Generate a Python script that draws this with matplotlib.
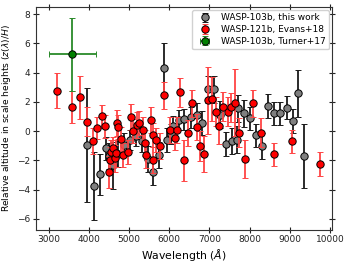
import numpy as np
import matplotlib
matplotlib.use("Agg")
import matplotlib.pyplot as plt

# WASP-103b, this work
wl_this = [3954, 4126, 4270, 4420, 4502, 4587, 4726, 4880, 5018, 5167,
           5324, 5474, 5598, 5748, 5872, 5932, 6031, 6090, 6246, 6363,
           6537, 6679, 6819, 6961, 7118, 7260, 7409, 7551, 7691, 7700,
           7870, 8019, 8157, 8313, 8463, 8612, 8762, 8921, 9071, 9210,
           9364]
z_this = [-0.95, -3.75, -2.95, -1.17, -1.70, -2.32, -1.58, -0.92, -0.61, -0.33,
          -0.64, -1.90, -2.77, -1.63, 4.31, -0.61, -0.20, 0.35, 0.76, 0.81,
          0.94, 1.10, 0.57, 2.86, 2.86, 1.13, -0.88, -0.66, -0.57, 1.56,
          1.22, 0.87, -0.29, -1.03, 1.73, 1.22, 1.22, 1.60, 0.71, 2.58,
          -1.70]
err_this = [3.9, 2.3, 1.4, 0.8, 0.9, 1.6, 0.9, 0.8, 0.7, 0.7,
            0.8, 0.9, 0.9, 0.9, 1.7, 0.8, 0.7, 0.7, 0.7, 0.7,
            0.7, 0.8, 0.8, 0.9, 0.9, 0.9, 0.8, 0.9, 0.9, 0.9,
            0.9, 0.8, 0.8, 0.9, 0.8, 0.8, 0.8, 0.8, 0.8, 1.6,
            2.2]

# WASP-121b, Evans+18
wl_ev = [3192, 3590, 3772, 3954, 4089, 4188, 4313, 4388, 4502, 4520,
         4544, 4602, 4642, 4669, 4686, 4726, 4786, 4851, 4960, 5043,
         5085, 5185, 5254, 5349, 5391, 5416, 5541, 5583, 5598, 5658,
         5765, 5872, 6014, 6139, 6181, 6271, 6370, 6470, 6570, 6679,
         6761, 6861, 6953, 7053, 7152, 7242, 7342, 7451, 7541, 7633,
         7740, 7882, 8089, 8293, 8612, 9066, 9763]
z_ev = [2.76, 1.67, 2.31, 0.64, -0.68, 0.21, 1.01, 0.33, -2.78, -1.97,
        -1.41, -1.17, -1.86, -1.52, 0.57, 0.30, -0.52, -1.63, -1.41, 0.98,
        0.01, 0.44, 0.57, 0.08, -0.79, -1.63, 0.76, -1.97, -0.27, -0.61,
        -1.02, 2.45, 0.08, -0.49, 0.08, 2.65, -2.00, -0.11, 1.90, 0.30,
        -1.02, -1.56, 2.10, 2.19, 1.33, 0.33, 1.67, 1.33, 1.63, 1.94,
        -0.11, -1.91, 1.90, -0.11, -1.58, -0.69, -2.25]
err_ev = [1.2, 1.1, 1.45, 1.0, 0.9, 0.75, 0.8, 0.8, 1.1, 0.9,
          0.8, 0.8, 0.9, 0.9, 0.9, 0.8, 0.8, 0.8, 0.8, 0.9,
          0.8, 0.9, 0.8, 0.9, 0.9, 0.9, 0.9, 0.9, 0.8, 0.8,
          0.9, 0.9, 0.9, 0.8, 0.9, 1.0, 1.4, 0.9, 0.9, 0.9,
          1.0, 1.2, 2.3, 1.5, 1.0, 1.2, 1.0, 1.0, 1.0, 2.3,
          1.0, 1.3, 0.9, 1.0, 0.8, 0.8, 0.8]

# WASP-103b, Turner+17
wl_tu = [3590]
z_tu = [5.27]
zerr_tu = [2.5]
wlerr_tu = [580]

fig = plt.figure(figsize=(3.49, 2.64), dpi=100)
ax = fig.add_axes([0.103, 0.129, 0.848, 0.844])

ax.errorbar(wl_this, z_this, yerr=err_this, fmt='o', color='#7f7f7f',
            ecolor='#1a1a1a', mec='black', mew=0.7, ms=5.3, elinewidth=1.3,
            capsize=2, capthick=1.0, label='WASP-103b, this work', zorder=2)
ax.errorbar(wl_ev, z_ev, yerr=err_ev, fmt='o', color='red',
            ecolor='#ff4444', mec='black', mew=0.7, ms=5.3, elinewidth=1.3,
            capsize=2, capthick=1.0, label='WASP-121b, Evans+18', zorder=3)
ax.errorbar(wl_tu, z_tu, yerr=zerr_tu, xerr=wlerr_tu, fmt='o', color='green',
            ecolor='#2a8a2a', mec='black', mew=0.7, ms=5.3, elinewidth=1.3,
            capsize=2, capthick=1.0, label='WASP-103b, Turner+17', zorder=4)

ax.set_xlim(2680, 10050)
ax.set_ylim(-6.75, 8.48)
ax.set_xticks(np.arange(3000, 10001, 1000))
ax.set_yticks(np.arange(-6, 9, 2))
ax.tick_params(direction='inout', top=True, right=True, labelsize=6.5,
               length=4, width=0.8, colors='#222222', pad=2)
for s in ax.spines.values():
    s.set_color('#333333')
    s.set_linewidth(0.8)

ax.set_xlabel(r'Wavelength ($\AA$)', fontsize=7.8, labelpad=2)
ax.set_ylabel(r'Relative altitude in scale heights $(z(\lambda)/H)$',
              fontsize=6.6, labelpad=3)
ax.legend(loc='upper right', fontsize=6.5, handletextpad=0.8,
          borderpad=0.4, labelspacing=0.3, framealpha=0.9,
          borderaxespad=0.3)

fig.savefig('out.png', dpi=100)
